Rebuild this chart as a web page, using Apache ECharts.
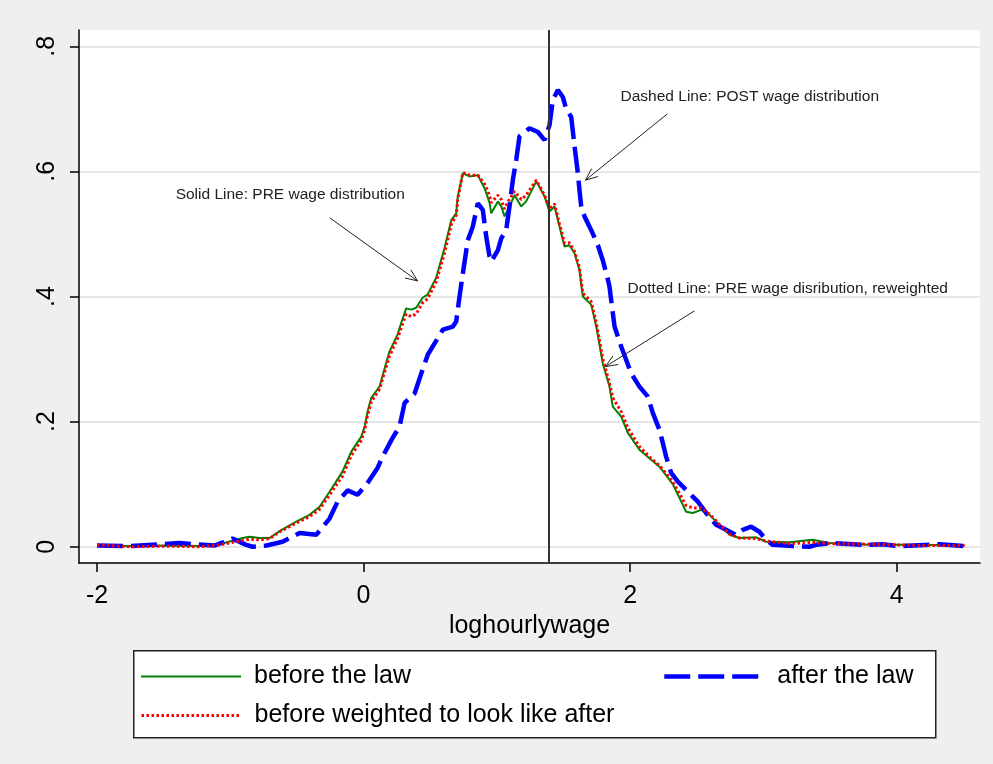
<!DOCTYPE html>
<html>
<head>
<meta charset="utf-8">
<script src="https://cdn.jsdelivr.net/npm/echarts@6/dist/echarts.min.js"></script>
<style>
  html, body { margin: 0; padding: 0; background: #efefef; }
  #chart { width: 993px; height: 764px; }
</style>
</head>
<body>
<div id="chart"></div>
<script>
// kernel densities, [loghourlywage, density]
const beforeLaw = [
  [-2.0, .002], [-1.755, .001], [-1.455, .002], [-1.23, .001], [-1.08, .004], [-0.908, .014], [-0.855, .016],
  [-0.78, .014], [-0.705, .014], [-0.63, .025], [-0.505, .04], [-0.405, .051], [-0.33, .064], [-0.255, .088],
  [-0.158, .12], [-0.092, .152], [-0.017, .176], [0.008, .192], [0.03, .216], [0.058, .238], [0.12, .256],
  [0.17, .294], [0.195, .312], [0.255, .339], [0.283, .358], [0.32, .381], [0.358, .379], [0.395, .382],
  [0.443, .398], [0.48, .403], [0.518, .419], [0.545, .43], [0.608, .478], [0.658, .522], [0.695, .533],
  [0.707, .56], [0.745, .597], [0.795, .592], [0.857, .594], [0.908, .573], [0.945, .55], [0.958, .533],
  [1.008, .552], [1.033, .544], [1.058, .528], [1.095, .544], [1.133, .562], [1.183, .544], [1.22, .552],
  [1.296, .584], [1.358, .56], [1.395, .536], [1.433, .544], [1.47, .512], [1.508, .48], [1.545, .482],
  [1.583, .469], [1.62, .442], [1.645, .40], [1.708, .387], [1.746, .352], [1.795, .293], [1.845, .256],
  [1.87, .224], [1.933, .208], [1.983, .182], [2.07, .155], [2.158, .139], [2.22, .128], [2.32, .10],
  [2.37, .078], [2.42, .056], [2.47, .054], [2.533, .059], [2.596, .051], [2.67, .035], [2.746, .019],
  [2.82, .014], [2.946, .015], [3.02, .008], [3.196, .007], [3.368, .011], [3.496, .006], [3.796, .003],
  [4.17, .003], [4.509, .002]
]

const reweighted = [
  [-2.0, .003], [-1.755, .0], [-1.455, .001], [-1.23, .0], [-1.08, .003], [-0.908, .01], [-0.855, .012],
  [-0.78, .011], [-0.705, .013], [-0.63, .024], [-0.505, .038], [-0.405, .048], [-0.33, .06], [-0.255, .083],
  [-0.158, .113], [-0.092, .146], [-0.017, .17], [0.008, .186], [0.03, .21], [0.058, .232], [0.12, .252],
  [0.17, .288], [0.195, .305], [0.255, .333], [0.283, .35], [0.32, .372], [0.358, .368], [0.395, .372],
  [0.443, .39], [0.48, .396], [0.518, .412], [0.545, .424], [0.608, .47], [0.658, .515], [0.695, .53],
  [0.707, .556], [0.745, .598], [0.795, .594], [0.857, .594], [0.908, .58], [0.945, .562], [0.958, .55],
  [1.008, .562], [1.033, .555], [1.058, .54], [1.095, .556], [1.133, .568], [1.183, .555], [1.22, .562],
  [1.296, .586], [1.358, .562], [1.395, .54], [1.433, .548], [1.47, .516], [1.508, .485], [1.545, .486],
  [1.583, .472], [1.62, .446], [1.645, .405], [1.708, .392], [1.746, .358], [1.795, .30], [1.845, .262],
  [1.87, .238], [1.933, .216], [1.983, .19], [2.07, .16], [2.158, .141], [2.22, .13], [2.32, .104],
  [2.37, .085], [2.42, .066], [2.47, .062], [2.533, .062], [2.596, .052], [2.67, .036], [2.746, .02],
  [2.82, .014], [2.946, .013], [3.02, .009], [3.196, .005], [3.368, .007], [3.496, .005], [3.796, .004],
  [4.17, .002], [4.509, .002]
]

const afterLaw = [
  [-2.0, .002], [-1.755, .001], [-1.53, .004], [-1.38, .006], [-1.268, .004], [-1.118, .002], [-0.983, .013],
  [-0.88, .003], [-0.833, .0], [-0.728, .002], [-0.608, .008], [-0.48, .022], [-0.355, .019], [-0.255, .045],
  [-0.195, .072], [-0.12, .09], [-0.045, .083], [0.03, .102], [0.105, .126], [0.143, .144], [0.218, .174],
  [0.27, .192], [0.308, .23], [0.383, .245], [0.433, .277], [0.482, .307], [0.533, .325], [0.595, .347],
  [0.67, .352], [0.695, .36], [0.72, .40], [0.745, .437], [0.782, .49], [0.82, .512], [0.857, .549],
  [0.895, .538], [0.92, .496], [0.945, .464], [0.958, .456], [1.008, .474], [1.033, .493], [1.07, .506],
  [1.095, .544], [1.12, .586], [1.145, .618], [1.17, .656], [1.245, .669], [1.308, .663], [1.358, .65],
  [1.395, .674], [1.42, .714], [1.458, .73], [1.495, .719], [1.52, .70], [1.558, .687], [1.583, .64],
  [1.608, .597], [1.62, .57], [1.633, .544], [1.658, .528], [1.708, .506], [1.758, .482], [1.795, .458],
  [1.833, .427], [1.845, .416], [1.883, .352], [1.933, .32], [2.008, .277], [2.07, .256], [2.133, .24],
  [2.17, .214], [2.22, .187], [2.245, .166], [2.27, .144], [2.308, .118], [2.358, .104], [2.42, .091],
  [2.47, .08], [2.508, .072], [2.57, .054], [2.645, .035], [2.72, .027], [2.795, .019], [2.845, .027],
  [2.908, .032], [2.97, .024], [3.02, .011], [3.07, .003], [3.22, .001], [3.345, .0], [3.395, .003],
  [3.52, .006], [3.745, .003], [3.895, .004], [4.02, .001], [4.32, .004], [4.509, .001]
]

const xTicks = [-2, 0, 2, 4]
const yTicks = [0, 0.2, 0.4, 0.6, 0.8]
const lawLine = 1.39

// text notes, in data units: label anchor, arrow start, arrow head
const notes = [
  { text: 'Solid Line: PRE wage distribution', at: [-1.41, .562], from: [-0.255, .526], to: [0.405, .425] },
  { text: 'Dashed Line: POST wage distribution', at: [1.928, .719], from: [2.28, .692], to: [1.665, .586] },
  { text: 'Dotted Line: PRE wage disribution, reweighted', at: [1.98, .412], from: [2.483, .377], to: [1.815, .288] }
]

const FONT = '"Liberation Sans", Arial, sans-serif'

const chart = echarts.init(document.getElementById('chart'))

const legendText = { fontSize: 25, color: '#000', fontFamily: FONT, padding: [0, 0, 0, 8] }
// line only in the legend, no marker dot
const noDot = { color: 'transparent', borderColor: 'transparent', borderWidth: 0, opacity: 0 }
const legendBase = { padding: 0, itemWidth: 100, itemHeight: 14, textStyle: legendText, itemStyle: noDot }

const legendBox = {
  type: 'rect',
  left: 133, top: 650, z: 1,
  shape: { width: 802, height: 87 },
  style: { fill: '#fff', stroke: '#222', lineWidth: 1.5 }
}

chart.setOption({
  animation: false,
  backgroundColor: '#efefef',
  textStyle: { fontFamily: FONT },
  grid: {
    left: 79, right: 13, top: 30, bottom: 201,
    show: true, backgroundColor: '#fff', borderWidth: 0
  },
  xAxis: {
    type: 'value',
    min: -2.135,
    max: 4.625,
    name: 'loghourlywage',
    nameLocation: 'middle',
    nameGap: 46,
    nameTextStyle: { fontSize: 25, color: '#000', fontFamily: FONT },
    axisLine: { onZero: false, lineStyle: { color: '#000', width: 1.5 } },
    axisTick: { length: 9, customValues: xTicks, lineStyle: { color: '#000', width: 1.5 } },
    axisLabel: { customValues: xTicks, fontSize: 25, color: '#000', margin: 21 },
    splitLine: { show: false }
  },
  yAxis: {
    type: 'value',
    min: -0.026,
    max: 0.826,
    axisLine: { show: true, onZero: false, lineStyle: { color: '#000', width: 1.5 } },
    axisTick: { show: true, length: 9, customValues: yTicks, lineStyle: { color: '#000', width: 1.5 } },
    axisLabel: {
      customValues: yTicks,
      rotate: 90,
      fontSize: 25,
      color: '#000',
      margin: 19,
      formatter: v => (v === 0 ? '0' : String(+v.toFixed(1)).replace(/^0/, ''))
    },
    splitLine: { show: true, lineStyle: { color: '#e6e6e6', width: 2 } }
  },
  legend: [
    Object.assign({ data: ['before the law'], left: 140, top: 664, lineStyle: { width: 2 } }, legendBase),
    Object.assign({ data: ['after the law'], left: 662, top: 664, lineStyle: { width: 4.5 } }, legendBase),
    Object.assign({ data: ['before weighted to look like after'], left: 140, top: 703, lineStyle: { width: 3 } }, legendBase)
  ],
  graphic: [legendBox],
  series: [
    {
      name: 'before the law',
      type: 'line',
      data: beforeLaw,
      symbol: 'none',
      lineStyle: { color: '#008000', width: 2 },
      itemStyle: { color: '#008000' },
      markLine: {
        silent: true,
        symbol: ['none', 'none'],
        label: { show: false },
        lineStyle: { color: '#333', width: 2, type: 'solid' },
        data: [{ xAxis: lawLine }]
      }
    },
    {
      name: 'after the law',
      type: 'line',
      data: afterLaw,
      symbol: 'none',
      lineStyle: { color: '#0000ff', width: 4.5, type: [26, 8] },
      itemStyle: { color: '#0000ff' }
    },
    {
      name: 'before weighted to look like after',
      type: 'line',
      data: reweighted,
      symbol: 'none',
      lineStyle: { color: '#ff0000', width: 3, type: [2.5, 2.5] },
      itemStyle: { color: '#ff0000' }
    }
  ]
})

// notes and arrows placed through the grid's own scales
const toPx = p => chart.convertToPixel({ gridIndex: 0 }, p)
const noteGraphics = []
notes.forEach(n => {
  const a = toPx(n.at)
  const f = toPx(n.from)
  const t = toPx(n.to)
  noteGraphics.push({
    type: 'text', x: a[0], y: a[1], z: 10,
    style: { text: n.text, fontSize: 15.5, fontFamily: FONT, fill: '#222', verticalAlign: 'middle' }
  })
  const ang = Math.atan2(f[1] - t[1], f[0] - t[0])
  const head = 13, spread = 0.4
  noteGraphics.push({
    type: 'polyline', z: 10,
    shape: { points: [f, t] },
    style: { stroke: '#222', lineWidth: 1, fill: null }
  })
  noteGraphics.push({
    type: 'polyline', z: 10,
    shape: {
      points: [
        [t[0] + head * Math.cos(ang + spread), t[1] + head * Math.sin(ang + spread)],
        t,
        [t[0] + head * Math.cos(ang - spread), t[1] + head * Math.sin(ang - spread)]
      ]
    },
    style: { stroke: '#222', lineWidth: 1, fill: null }
  })
})
chart.setOption({ graphic: [legendBox].concat(noteGraphics) })
</script>
</body>
</html>
